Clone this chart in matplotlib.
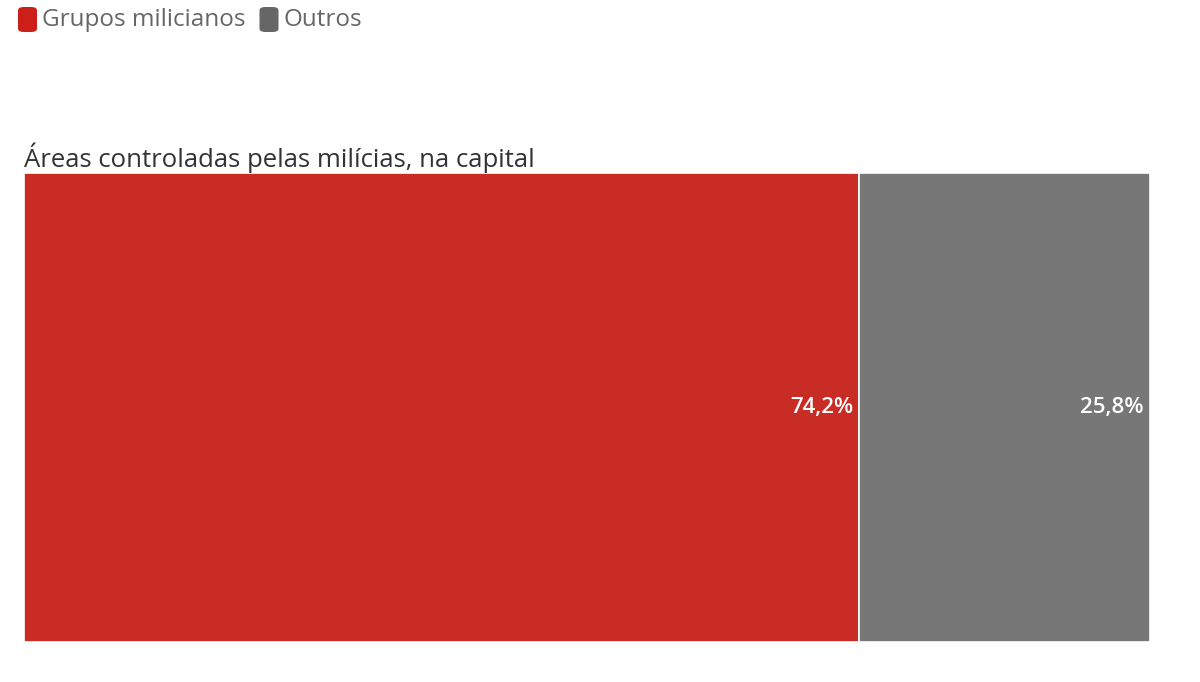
import matplotlib
matplotlib.use("Agg")
import matplotlib.pyplot as plt
from matplotlib.patches import FancyBboxPatch

plt.rcParams['font.family'] = ['Open Sans', 'DejaVu Sans']

category = ["Áreas controladas pelas milícias, na capital"]
series_names = ["Grupos milicianos", "Outros"]
values = [74.2, 25.8]
labels = ["74,2%", "25,8%"]
colors = ["#c92c24", "#777777"]
legend_colors = ["#cc1f1a", "#666666"]

fig = plt.figure(figsize=(12, 6.82), dpi=100)
ax = fig.add_axes([24/1200, 40/682, (1150-24)/1200, (642-173)/682])

left = 0
for name, v, lab, c in zip(series_names, values, labels, colors):
    ax.barh(0, v, left=left, height=1.0, color=c, edgecolor="white", linewidth=1.2)
    ax.annotate(lab, xy=(left + v, 0), xytext=(-4.5, 0), textcoords="offset points",
                ha="right", va="center", color="white", fontsize=16, fontweight="semibold")
    left += v

ax.set_xlim(0, sum(values))
ax.set_ylim(-0.5, 0.5)
ax.axis("off")

fig.text(24/1200, 1 - 158/682, category[0], ha="left", va="center", fontsize=18.5, color="#333333")

# legend
x = 18
for name, c in zip(series_names, legend_colors):
    box = FancyBboxPatch((x/1200, 1 - 32/682), 19/1200, 25/682,
                         boxstyle="round,pad=0,rounding_size=0.005",
                         transform=fig.transFigure, facecolor=c, edgecolor="none")
    fig.patches.append(box)
    t = fig.text((x + 24)/1200, 1 - 20/682, name, ha="left", va="center", fontsize=17.5, color="#666666")
    fig.canvas.draw()
    bb = t.get_window_extent()
    x = bb.x1 + 14

fig.savefig("out.png", dpi=100, facecolor="white")
